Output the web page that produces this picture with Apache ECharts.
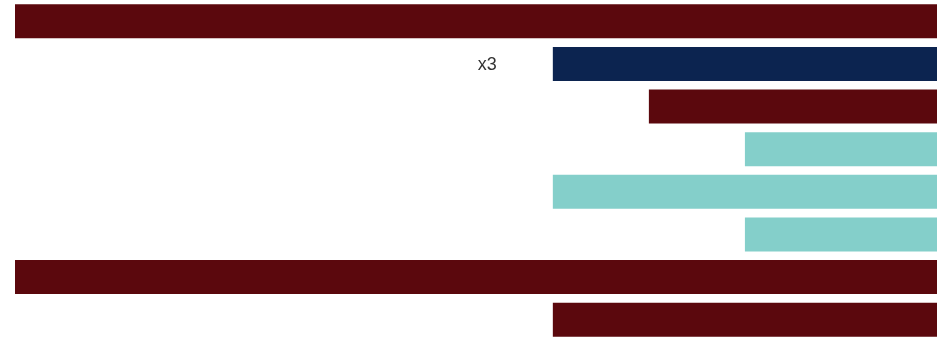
<!DOCTYPE html>
<html>
<head>
<meta charset="utf-8">
<script src="https://cdn.jsdelivr.net/npm/echarts@6/dist/echarts.min.js"></script>
<style>html,body{margin:0;padding:0;background:#fff;}#c{width:949px;height:341px;}</style>
</head>
<body>
<div id="c"></div>
<script>
const categories = ['r1','r2','r3','r4','r5','r6','r7','r8'];
const values = [9.6, 4, 3, 2, 4, 2, 9.6, 4];
const colorKeys = ['red','navy','red','teal','teal','teal','red','red'];
const labels = ['', 'x3', '', '', '', '', '', ''];
const palette = {red:'#5b080d', navy:'#0c2450', teal:'#84cfca'};

const chart = echarts.init(document.getElementById('c'));
chart.setOption({
  animation:false,
  grid:{left:15,right:12,top:-1.5,bottom:-1,containLabel:false},
  xAxis:{type:'value',min:0,max:9.6,inverse:true,show:false},
  yAxis:{type:'category',data:categories,inverse:true,show:false},
  series:[{
    type:'bar',
    barWidth:34,
    data:values.map((v,i)=>({
      value:v,
      itemStyle:{color:palette[colorKeys[i]]},
      label:{show:!!labels[i],formatter:labels[i],position:'left',distance:56,color:'#333',fontSize:18,fontFamily:'Liberation Sans, Arial, sans-serif',offset:[0,1]}
    }))
  }]
});
</script>
</body>
</html>
